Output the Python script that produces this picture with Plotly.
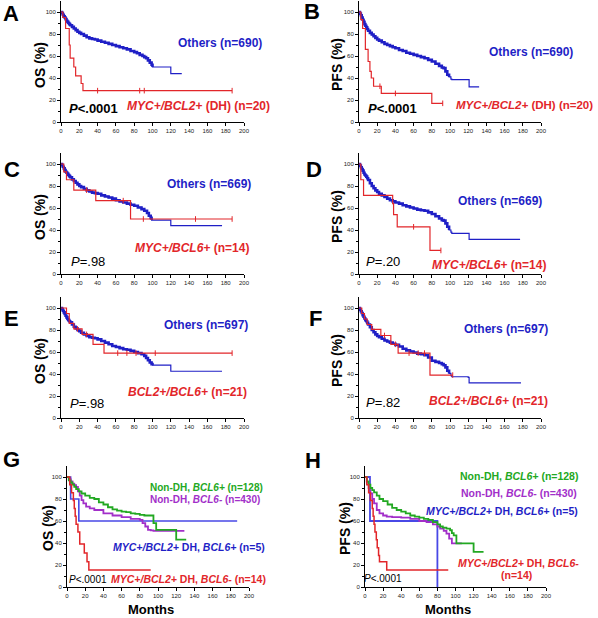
import plotly.graph_objects as go

W, H = 598, 618

# ---------------- DATA (months, survival %) ----------------
# Panel A (OS)
A_oth_t = [0, 1, 2, 3, 4, 5, 6, 7, 8, 9, 10, 12, 14, 16, 18, 20, 22, 25, 28, 31, 34, 37, 40, 44, 48, 52, 56, 60, 64, 68, 72, 76, 80, 83, 86, 89, 91, 93, 95, 97, 99, 100, 119, 120, 132]
A_oth_s = [100, 99, 97.5, 96, 95, 93.5, 92, 91, 90, 89, 88, 86.5, 85, 83.5, 82, 81, 80, 78.5, 77, 76, 75.5, 75, 74, 73, 72, 71, 70, 69, 68, 67, 66, 64.5, 63.5, 62.5, 61, 60, 59, 58, 56, 54, 52, 50, 50, 44, 44]
A_dh_t = [0, 2, 5, 9, 10, 14, 16, 22, 24, 187]
A_dh_s = [100, 95, 85, 70, 58, 50, 42, 35, 28.5, 28.5]
A_dh_cens = [40, 86, 91, 187]

# Panel B (PFS)
B_oth_t = [0, 1, 2, 3, 4, 5, 6, 7, 8, 9, 10, 12, 14, 16, 18, 20, 22, 25, 28, 31, 34, 37, 40, 44, 48, 52, 56, 60, 64, 68, 72, 76, 80, 84, 88, 91, 93, 95, 97, 99, 101, 102, 120, 121, 132]
B_oth_s = [100, 98.5, 97, 95, 93, 91, 89, 87.5, 86, 84.5, 83, 81, 79.5, 78, 76.5, 75, 74, 72.5, 71, 70, 69, 68, 67, 65.5, 64.5, 63, 62, 61, 60, 59, 58, 56.5, 55, 53, 51, 49.5, 49, 46, 43, 41, 39, 38.5, 38.5, 32, 32]
B_dh_t = [0, 2, 4, 7, 10, 12, 13.5, 16, 24.5, 80, 92]
B_dh_s = [100, 93, 85, 66, 55, 46, 40, 32.5, 26, 17, 17]
B_dh_cens = [23, 40, 92]

# Panel C (OS)
C_oth_t = [0, 1, 2, 3, 4, 5, 6, 7, 8, 9, 10, 12, 14, 16, 18, 20, 22, 25, 28, 31, 34, 37, 40, 44, 48, 52, 56, 60, 64, 68, 72, 76, 80, 84, 88, 91, 94, 96, 98, 99, 119, 120, 176]
C_oth_s = [100, 99, 97.5, 96, 94.5, 93, 92, 91, 90, 89, 88, 86, 84.5, 83, 81.5, 80, 79, 77.5, 76, 75, 74, 73.5, 73, 71.5, 70.5, 69.5, 68.5, 67, 66, 65, 64, 63, 62, 60.5, 59, 57.5, 55.5, 53, 51, 49, 49, 44, 44]
C_myc_t = [0, 3, 6, 14, 38, 76, 187]
C_myc_s = [100, 92.9, 85.7, 76.2, 66.7, 50, 50]
C_myc_cens = [28, 68, 90, 147, 187]

# Panel D (PFS)
D_oth_t = [0, 1, 2, 3, 4, 5, 6, 7, 8, 9, 10, 12, 14, 16, 18, 20, 22, 25, 28, 31, 34, 37, 40, 44, 48, 52, 56, 60, 64, 68, 72, 76, 80, 84, 88, 91, 93, 95, 97, 99, 101, 102, 120, 121, 177]
D_oth_s = [100, 98.5, 97, 95.5, 94, 92, 90.5, 89.5, 88.5, 87, 85.5, 82.5, 80, 78, 76, 74.5, 73, 71.5, 70, 68.5, 67, 66, 65, 64, 62.5, 61.5, 60.5, 59.5, 58.5, 58, 57.5, 56, 54.5, 52.5, 50.5, 49, 48.5, 46, 43, 40, 38, 37, 37, 31.5, 31.5]
D_myc_t = [0, 2, 5, 35, 37, 38, 42, 78, 90]
D_myc_s = [100, 85.7, 71.4, 71.4, 64, 54, 42.9, 21.4, 21.4]
D_myc_cens = [60, 90]

# Panel E (OS)
E_oth_t = [0, 1, 2, 3, 4, 5, 6, 7, 8, 9, 10, 12, 14, 16, 18, 20, 22, 25, 28, 31, 34, 37, 40, 44, 48, 52, 56, 60, 64, 68, 72, 76, 80, 84, 88, 91, 93, 95, 97, 99, 100, 119, 120, 176]
E_oth_s = [100, 99, 97.5, 96, 94.5, 93, 91.5, 90, 89, 88, 87, 85, 83, 81.5, 80, 79, 77.5, 76, 74.5, 73.5, 73, 72.5, 71.5, 70, 68.5, 67, 65.5, 64.5, 63.5, 62.5, 62, 61, 60, 59, 58, 56.5, 54.5, 52.5, 50.5, 49, 48, 48, 42.5, 42.5]
E_b_t = [0, 6, 9, 14, 23, 35, 47, 187]
E_b_s = [100, 95, 86, 81, 76, 67, 59, 59]
E_b_cens = [18, 28, 62, 72, 82, 103, 187]

# Panel F (PFS)
F_oth_t = [0, 1, 2, 3, 4, 5, 6, 7, 8, 9, 10, 12, 14, 16, 18, 20, 22, 25, 28, 31, 34, 37, 40, 44, 48, 52, 56, 60, 64, 68, 72, 76, 80, 84, 88, 91, 93, 95, 97, 99, 101, 102, 120, 121, 178]
F_oth_s = [100, 98.5, 97, 95.5, 93.5, 92, 90.5, 89, 88, 86.5, 85, 82.5, 80, 78, 76, 74.5, 73.5, 72, 70.5, 69.5, 68.5, 67.5, 66.5, 65, 63, 61.5, 60.5, 59.5, 58.5, 58, 57, 55, 52, 51, 50, 49, 48, 46, 43, 40.5, 38.5, 37.5, 37, 32, 32]
F_b_t = [0, 3, 6, 9, 14, 24, 35, 43, 78, 103]
F_b_s = [100, 95, 90, 85, 80.5, 75, 67, 59, 39, 39]
F_b_cens = [28, 40, 55, 65, 72, 103]

# Panel G (OS)
G_grn_t = [0, 2, 4, 6, 8, 10, 13, 16, 20, 25, 30, 35, 40, 45, 50, 55, 60, 65, 70, 75, 80, 85, 90, 93, 95, 98, 119, 120, 131]
G_grn_s = [100, 97, 95, 93, 91, 89, 87, 85, 83, 81, 80, 77, 75, 72.5, 70.5, 69.5, 68.5, 68, 67, 66.5, 65.5, 65, 65, 65, 58, 52, 52, 43, 43]
G_pur_t = [0, 2, 4, 6, 8, 10, 12, 14, 16, 18, 21, 25, 30, 40, 50, 60, 70, 80, 83, 86, 89, 92, 95, 129]
G_pur_s = [100, 98, 96, 94, 92.5, 91, 87, 83, 79, 76, 73, 71.5, 70, 67, 65, 63.5, 62, 61, 58, 55, 52, 51.5, 51, 51]
G_blu_t = [0, 4, 13, 187]
G_blu_s = [100, 80, 60, 60]
G_red_t = [0, 3, 5, 7, 8, 9, 10, 12, 14, 19, 22, 24, 92]
G_red_s = [100, 92.9, 85.7, 78.6, 71.4, 64.3, 57.1, 50, 39, 31, 23, 15.5, 15.5]

# Panel H (PFS)
H_grn_t = [0, 2, 4, 6, 8, 10, 13, 16, 20, 25, 30, 35, 40, 45, 50, 55, 60, 65, 70, 75, 80, 83, 86, 90, 94, 96, 98, 101, 118, 120, 131]
H_grn_s = [100, 96, 93, 90, 88, 86, 83, 80, 78, 75, 72, 70, 68.5, 67, 65, 64, 63, 62, 61, 59, 57, 55, 54, 53, 51.6, 49, 47, 39.6, 39.6, 32, 32]
H_pur_t = [0, 2, 4, 6, 8, 10, 13, 16, 20, 24, 30, 40, 50, 60, 68, 75, 80, 83, 87, 90, 93, 96, 107]
H_pur_s = [100, 95, 90, 85, 80, 76, 70, 67, 65, 64, 63.5, 63, 62, 60, 59, 57, 55, 53, 51, 48.6, 44, 39.6, 39.6]
H_blu_t = [0, 5.5, 80]
H_blu_s = [100, 60, 0]
H_red_t = [0, 2, 4, 6, 8, 9, 10, 11, 12.5, 13.5, 15, 16, 24, 92]
H_red_s = [100, 92.9, 85.7, 78.6, 71.4, 64.3, 57.1, 50, 42.9, 35.7, 28.6, 23, 15.5, 15.5]

x_ticks = [0, 20, 40, 60, 80, 100, 120, 140, 160, 180, 200]
y_ticks = [0, 20, 40, 60, 80, 100]

# ---------------- STYLE ----------------
BLUE = "#1f1fc6"
RED = "#e2262a"
GREEN = "#22a822"
PURPLE = "#a22fc9"
BLUE_H = "#4848e6"

# pixel boxes: (left, right, top, bottom)
boxes = {
    "A": (61, 244, 1, 122), "B": (359, 541, 1, 122),
    "C": (61, 244, 153, 274), "D": (359, 541, 153, 274),
    "E": (61, 244, 297, 418), "F": (359, 541, 297, 418),
    "G": (67, 249, 466, 587), "H": (365, 546, 466, 587),
}
order = ["A", "B", "C", "D", "E", "F", "G", "H"]

fig = go.Figure()


def step_val(ts, ss, x):
    v = ss[0]
    for t, s in zip(ts, ss):
        if t <= x:
            v = s
    return v


def add_curve(panel, ts, ss, color, width=1.2, thick_until=None, cens=None):
    i = order.index(panel) + 1
    xa = "x" if i == 1 else f"x{i}"
    ya = "y" if i == 1 else f"y{i}"
    fig.add_trace(go.Scatter(x=ts, y=ss, mode="lines", line=dict(color=color, width=width, shape="hv"),
                             xaxis=xa, yaxis=ya, showlegend=False, hoverinfo="skip", cliponaxis=False))
    if thick_until is not None:
        tt = [t for t in ts if t <= thick_until]
        st = ss[:len(tt)]
        fig.add_trace(go.Scatter(x=tt, y=st, mode="lines", line=dict(color=color, width=2.6, shape="hv"),
                                 xaxis=xa, yaxis=ya, showlegend=False, hoverinfo="skip", cliponaxis=False))
    if cens:
        fig.add_trace(go.Scatter(x=cens, y=[step_val(ts, ss, c) for c in cens], mode="markers",
                                 marker=dict(symbol="line-ns", size=4, line=dict(color=color, width=1)),
                                 xaxis=xa, yaxis=ya, showlegend=False, hoverinfo="skip", cliponaxis=False))


add_curve("A", A_oth_t, A_oth_s, BLUE, thick_until=100)
add_curve("A", A_dh_t, A_dh_s, RED, cens=A_dh_cens)
add_curve("B", B_oth_t, B_oth_s, BLUE, thick_until=100)
add_curve("B", B_dh_t, B_dh_s, RED, cens=B_dh_cens)
add_curve("C", C_oth_t, C_oth_s, BLUE, thick_until=100)
add_curve("C", C_myc_t, C_myc_s, RED, cens=C_myc_cens)
add_curve("D", D_oth_t, D_oth_s, BLUE, thick_until=100)
add_curve("D", D_myc_t, D_myc_s, RED, cens=D_myc_cens)
add_curve("E", E_oth_t, E_oth_s, BLUE, thick_until=100)
add_curve("E", E_b_t, E_b_s, RED, cens=E_b_cens)
add_curve("F", F_oth_t, F_oth_s, BLUE, thick_until=100)
add_curve("F", F_b_t, F_b_s, RED, cens=F_b_cens)
add_curve("G", G_blu_t, G_blu_s, BLUE_H, width=1.6)
add_curve("G", G_pur_t, G_pur_s, PURPLE, width=1.8)
add_curve("G", G_grn_t, G_grn_s, GREEN, width=1.8)
add_curve("G", G_red_t, G_red_s, RED, width=1.5)
add_curve("H", H_blu_t, H_blu_s, BLUE_H, width=1.8)
add_curve("H", H_pur_t, H_pur_s, PURPLE, width=1.8)
add_curve("H", H_grn_t, H_grn_s, GREEN, width=1.8)
add_curve("H", H_red_t, H_red_s, RED, width=1.5)

layout = dict(width=W, height=H, margin=dict(l=0, r=0, t=0, b=0, autoexpand=False),
              template="none",
              paper_bgcolor="white", plot_bgcolor="white",
              font=dict(family="Arial, Liberation Sans, sans-serif", color="black"))

for k, p in enumerate(order):
    l, r, t, b = boxes[p]
    i = k + 1
    xk = "xaxis" if i == 1 else f"xaxis{i}"
    yk = "yaxis" if i == 1 else f"yaxis{i}"
    ya = "y" if i == 1 else f"y{i}"
    xa = "x" if i == 1 else f"x{i}"
    layout[xk] = dict(domain=[l / W, r / W], anchor=ya, range=[0, 200], tickvals=x_ticks,
                      automargin=False,
                      showgrid=False, zeroline=False, showline=True, linecolor="black", linewidth=1,
                      ticks="outside", ticklen=3, tickwidth=1, tickcolor="black",
                      tickfont=dict(size=6, color="#222"), fixedrange=True)
    layout[yk] = dict(domain=[1 - b / H, 1 - t / H], anchor=xa, range=[0, 110], tickvals=y_ticks,
                      automargin=False,
                      showgrid=False, zeroline=False, showline=True, linecolor="black", linewidth=1,
                      ticks="outside", ticklen=3, tickwidth=1, tickcolor="black",
                      minor=dict(tickvals=[10, 30, 50, 70, 90], ticks="outside", ticklen=2, tickcolor="black"),
                      tickfont=dict(size=6, color="#222"), fixedrange=True)

anns = []


def ann(text, x, y, color="black", size=12, angle=0):
    anns.append(dict(text=text, x=x / W, y=1 - y / H, xref="paper", yref="paper",
                     xanchor="center", yanchor="middle", showarrow=False, textangle=angle,
                     font=dict(size=size, color=color)))


# panel letters
for p, (x, y) in {"A": (11, 13), "B": (312, 12), "C": (12, 170), "D": (314, 170),
                  "E": (11, 318), "F": (315, 318), "G": (11, 459), "H": (313, 460)}.items():
    ann(f"<b>{p}</b>", x, y, size=22)

# y titles
for p, (x, y), txt in [("A", (40, 65), "OS (%)"), ("B", (337, 65), "PFS (%)"),
                       ("C", (40, 217), "OS (%)"), ("D", (337, 217), "PFS (%)"),
                       ("E", (40, 361), "OS (%)"), ("F", (337, 361), "PFS (%)"),
                       ("G", (48, 528), "OS (%)"), ("H", (345, 528), "PFS (%)")]:
    ann(f"<b>{txt}</b>", x, y, size=14, angle=-90)

# A
ann("<b>Others (n=690)</b>", 220, 43, BLUE, 12)
ann("<b><i>P</i>&lt;.0001</b>", 93, 109, "black", 13)
ann("<b><i>MYC+/BCL2+</i> (DH) (n=20)</b>", 198, 106, RED, 12)
# B
ann("<b>Others (n=690)</b>", 531, 52, BLUE, 12)
ann("<b><i>P</i>&lt;.0001</b>", 392, 109, "black", 13)
ann("<b><i>MYC+/BCL2+</i> (DH) (n=20)</b>", 524, 105, RED, 11.5)
# C
ann("<b>Others (n=669)</b>", 209, 184, BLUE, 12)
ann("<b><i>MYC+/BCL6+</i> (n=14)</b>", 192, 248, RED, 12)
ann("<i>P</i>=.98", 88, 261, "black", 13)
# D
ann("<b>Others (n=669)</b>", 500, 201, BLUE, 12)
ann("<i>P</i>=.20", 383, 261, "black", 13)
ann("<b><i>MYC+/BCL6+</i> (n=14)</b>", 489, 265, RED, 12)
# E
ann("<b>Others (n=697)</b>", 206, 325, BLUE, 12)
ann("<b><i>BCL2+/BCL6+</i> (n=21)</b>", 187, 392, RED, 12)
ann("<i>P</i>=.98", 87, 403, "black", 13)
# F
ann("<b>Others (n=697)</b>", 506, 329, BLUE, 12)
ann("<i>P</i>=.82", 383, 402, "black", 13)
ann("<b><i>BCL2+/BCL6+</i> (n=21)</b>", 488, 401, RED, 12)
# G
ann("<b>Non-DH, <i>BCL6+</i> (n=128)</b>", 206, 487, GREEN, 10)
ann("<b>Non-DH, <i>BCL6-</i> (n=430)</b>", 205, 499, PURPLE, 10)
ann("<b><i>MYC+/BCL2+</i> DH, <i>BCL6+</i> (n=5)</b>", 189, 547, BLUE, 10.5)
ann("<i>P</i>&lt;.0001", 88, 579, "black", 10)
ann("<b><i>MYC+/BCL2+</i> DH, <i>BCL6-</i> (n=14)</b>", 188, 579, RED, 10.5)
ann("<b>Months</b>", 151, 609, "black", 13)
# H
ann("<b>Non-DH, <i>BCL6+</i> (n=128)</b>", 519, 476, GREEN, 10.5)
ann("<b>Non-DH, <i>BCL6-</i> (n=430)</b>", 519, 493, PURPLE, 10.5)
ann("<b><i>MYC+/BCL2+</i> DH, <i>BCL6+</i> (n=5)</b>", 502, 511, BLUE, 10.5)
ann("<b><i>MYC+/BCL2+</i> DH, <i>BCL6-</i></b>", 518, 563, RED, 10.5)
ann("<b>(n=14)</b>", 516, 575, RED, 10.5)
ann("<i>P</i>&lt;.0001", 383, 578, "black", 10)
ann("<b>Months</b>", 448, 609, "black", 13)

layout["annotations"] = anns
fig.update_layout(**layout)
fig.write_html("out.html", config={"displayModeBar": False},
               post_script="document.body.style.margin='0';document.body.style.overflow='hidden';")
